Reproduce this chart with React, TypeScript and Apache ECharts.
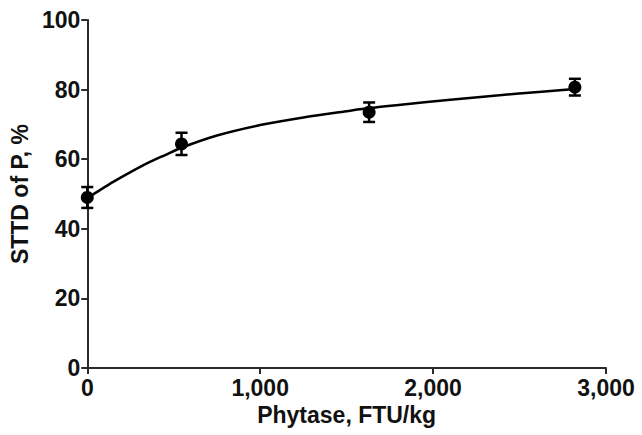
import React, { useEffect, useRef } from "react";
import * as echarts from "echarts";

// Measured points (mean ± SEM)
const doses = [0, 545, 1630, 2820];
const sttdP = [49.0, 64.4, 73.5, 80.7];
const sem = [3.0, 3.2, 2.8, 2.4];

// Fitted curve
const curveX = [0, 75, 150, 250, 345, 450, 545, 750, 1000, 1250, 1500, 1630, 1800, 2100, 2480, 2820];
const curveY = [48.8, 51.2, 53.5, 56.3, 58.8, 61.2, 63.3, 66.8, 69.8, 72.0, 73.8, 74.7, 75.6, 77.1, 78.8, 80.2];

const xTicks = [0, 1000, 2000, 3000];
const yTicks = [0, 20, 40, 60, 80, 100];

const FONT = "'Liberation Sans', Arial, Helvetica, sans-serif";

function fmt(v: number): string {
  if (v >= 1000) {
    return `${Math.floor(v / 1000)},${String(v % 1000).padStart(3, "0")}`;
  }
  return String(v);
}

export default function App() {
  const ref = useRef<HTMLDivElement>(null);

  useEffect(() => {
    if (!ref.current) return;
    const chart = echarts.init(ref.current, undefined, { renderer: "svg" });

    const axisColor = "#2a2a2a";
    const option: any = {
      animation: false,
      backgroundColor: "#ffffff",
      grid: { left: 87, right: 36, top: 20, bottom: 67, containLabel: false },
      xAxis: {
        type: "value",
        min: xTicks[0],
        max: xTicks[xTicks.length - 1],
        interval: 1000,
        name: "Phytase, FTU/kg",
        nameLocation: "middle",
        nameGap: 32,
        nameTextStyle: { fontFamily: FONT, fontWeight: "bold", fontSize: 23, color: "#111" },
        axisLine: { show: true, lineStyle: { color: axisColor, width: 2 } },
        axisTick: { show: true, length: 6, lineStyle: { color: axisColor, width: 2 } },
        axisLabel: {
          margin: 8,
          fontFamily: FONT,
          fontWeight: "bold",
          fontSize: 23,
          color: "#111",
          formatter: (v: number) => fmt(v),
        },
        splitLine: { show: false },
      },
      yAxis: {
        type: "value",
        min: yTicks[0],
        max: yTicks[yTicks.length - 1],
        interval: 20,
        name: "STTD of P, %",
        nameLocation: "middle",
        nameGap: 55,
        nameTextStyle: { fontFamily: FONT, fontWeight: "bold", fontSize: 23, color: "#111" },
        axisLine: { show: true, lineStyle: { color: axisColor, width: 2 } },
        axisTick: { show: true, length: 6, lineStyle: { color: axisColor, width: 2 } },
        axisLabel: {
          margin: 7,
          fontFamily: FONT,
          fontWeight: "bold",
          fontSize: 23,
          color: "#111",
        },
        splitLine: { show: false },
      },
      series: [
        {
          type: "line",
          data: curveX.map((x, i) => [x, curveY[i]]),
          smooth: 0.3,
          symbol: "none",
          lineStyle: { color: "#000", width: 2.5 },
          z: 2,
        },
        {
          type: "custom",
          data: doses.map((x, i) => [x, sttdP[i] - sem[i], sttdP[i] + sem[i]]),
          renderItem: (params: any, api: any) => {
            const x = api.value(0);
            const lo = api.coord([x, api.value(1)]);
            const hi = api.coord([x, api.value(2)]);
            const hw = 6;
            const style = { stroke: "#000", lineWidth: 2.5 };
            return {
              type: "group",
              children: [
                { type: "line", shape: { x1: lo[0], y1: lo[1], x2: hi[0], y2: hi[1] }, style },
                { type: "line", shape: { x1: lo[0] - hw, y1: lo[1], x2: lo[0] + hw, y2: lo[1] }, style },
                { type: "line", shape: { x1: hi[0] - hw, y1: hi[1], x2: hi[0] + hw, y2: hi[1] }, style },
              ],
            };
          },
          z: 3,
        },
        {
          type: "scatter",
          data: doses.map((x, i) => [x, sttdP[i]]),
          symbol: "circle",
          symbolSize: 13,
          itemStyle: { color: "#000", opacity: 1 },
          z: 4,
        },
      ],
    };

    chart.setOption(option);
    return () => chart.dispose();
  }, []);

  return (
    <div
      ref={ref}
      style={{ position: "fixed", left: 0, top: 0, width: 642, height: 435, background: "#fff" }}
    />
  );
}
